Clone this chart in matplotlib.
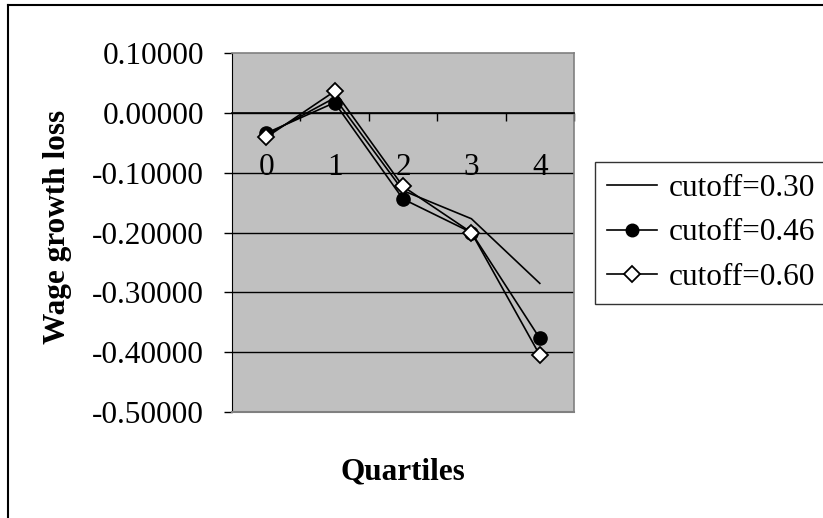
# wage growth loss by quartile, three cutoffs (Excel-style line chart)

import numpy as np
import matplotlib
matplotlib.use("Agg")
import matplotlib.pyplot as plt
from matplotlib.lines import Line2D

plt.rcParams["font.family"] = ["Liberation Serif", "DejaVu Serif"]
plt.rcParams["axes.unicode_minus"] = False

# ------------------------------------------------------------
# data
# ------------------------------------------------------------
quartiles = [0, 1, 2, 3, 4]
quartile_labels = ["0", "1", "2", "3", "4"]

cutoff_030 = [-0.037, 0.025, -0.130, -0.177, -0.285]
cutoff_046 = [-0.034, 0.017, -0.144, -0.200, -0.377]
cutoff_060 = [-0.041, 0.036, -0.123, -0.200, -0.405]

y_ticks = [0.1, 0.0, -0.1, -0.2, -0.3, -0.4, -0.5]
y_tick_labels = ["0.10000", "0.00000", "-0.10000", "-0.20000",
                 "-0.30000", "-0.40000", "-0.50000"]

FS = 22.5
W, H = 823, 518

fig = plt.figure(figsize=(W / 100, H / 100), dpi=100)
ax = fig.add_axes([232 / W, 1 - 412 / H, 342 / W, 359 / H])
ax.set_facecolor("#C0C0C0")

# grid lines
for v in y_ticks[1:-1]:
    ax.axhline(v, color="black", lw=1.0, zorder=1)

ax.plot(quartiles, cutoff_030, color="black", lw=1.2, zorder=3,
        label="cutoff=0.30")
ax.plot(quartiles, cutoff_046, color="black", lw=1.2, marker="o",
        markersize=9.5, markerfacecolor="black", zorder=4,
        label="cutoff=0.46")
ax.plot(quartiles, cutoff_060, color="black", lw=1.2, marker="D",
        markersize=8.5, markerfacecolor="white", markeredgecolor="black",
        markeredgewidth=1.3, zorder=5, label="cutoff=0.60")

ax.set_xlim(-0.5, 4.5)
ax.set_ylim(-0.5, 0.1)

# y axis
ax.set_yticks(y_ticks)
ax.set_yticklabels(y_tick_labels, fontsize=FS)
ax.tick_params(axis="y", direction="out", length=6, width=1, pad=14)

# x axis sits on zero, ticks at category boundaries, labels at centres
ax.spines["bottom"].set_position(("data", 0))
ax.spines["bottom"].set_color("black")
ax.spines["bottom"].set_linewidth(1.2)
ax.set_xticks([0.5, 1.5, 2.5, 3.5, 4.5])
ax.set_xticklabels([])
ax.set_xticks(quartiles, minor=True)
ax.set_xticklabels(quartile_labels, minor=True, fontsize=FS)
ax.tick_params(axis="x", which="major", direction="out", length=6, width=1)
ax.tick_params(axis="x", which="minor", length=0, pad=29)

ax.spines["left"].set_color("black")
for s in ["top", "right"]:
    ax.spines[s].set_color("#808080")
    ax.spines[s].set_linewidth(1.2)

# bottom edge of the plot area (spine moved to zero)
ax.plot([0, 1], [0, 0], transform=ax.transAxes, color="#808080",
        lw=1.5, clip_on=False, zorder=6)

# axis titles
fig.text(57 / W, 1 - 227 / H, "Wage growth loss", rotation=90,
         fontsize=FS, fontweight="bold", ha="center", va="center")
fig.text(403 / W, 1 - 472 / H, "Quartiles", fontsize=FS,
         fontweight="bold", ha="center", va="center")

# legend
leg = fig.legend(loc="upper left", bbox_to_anchor=(595 / W, 1 - 162 / H),
                 bbox_transform=fig.transFigure, fontsize=FS,
                 frameon=True, fancybox=False, borderaxespad=0,
                 handlelength=1.6, handletextpad=0.38, borderpad=0.38,
                 labelspacing=0.5, markerscale=0.95)
leg.get_frame().set_edgecolor("black")
leg.get_frame().set_linewidth(1.0)

# chart border (left and top edges visible)
fig.add_artist(Line2D([8 / W, 8 / W], [0, 1 - 5 / H], color="black", lw=1.5,
                      transform=fig.transFigure))
fig.add_artist(Line2D([8 / W, 1], [1 - 5 / H, 1 - 5 / H], color="black",
                      lw=1.5, transform=fig.transFigure))

fig.savefig("out.png", dpi=100)
